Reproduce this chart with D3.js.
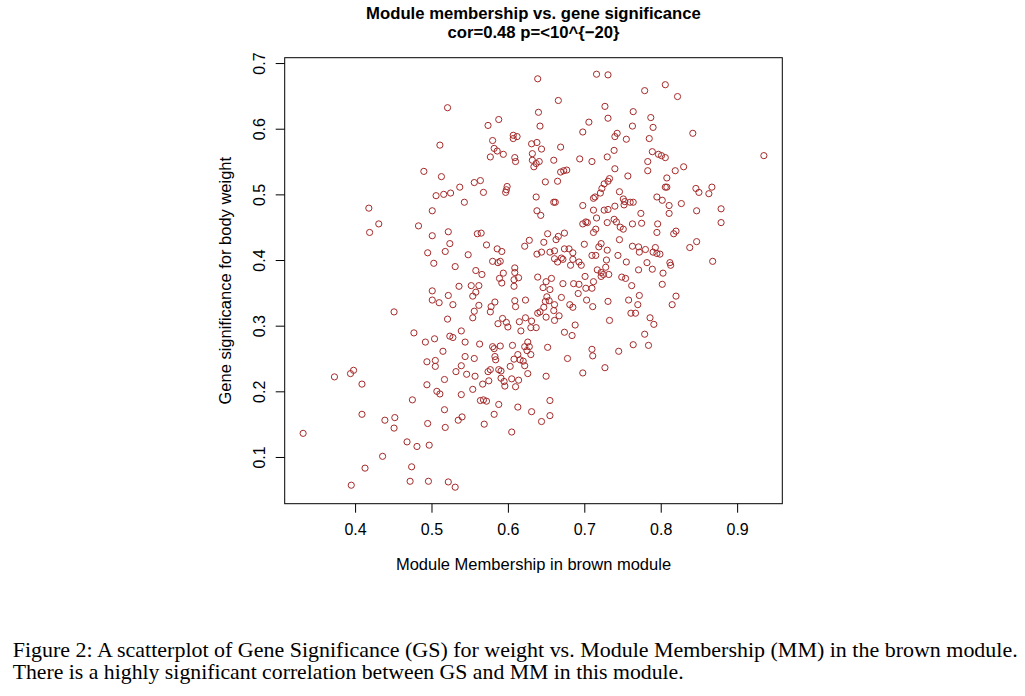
<!DOCTYPE html>
<html>
<head>
<meta charset="utf-8">
<script src="https://cdn.jsdelivr.net/npm/d3@7"></script>
<style>
  body { margin: 0; background: #fff; }
  text { font-family: "Liberation Sans", Arial, sans-serif; }
</style>
</head>
<body>
<div id="chart"></div>
<script>
// module membership (x) and gene significance (y), one entry per gene
var mm = [
  0.511,0.490,0.513,0.506,0.516,0.639,0.716,0.666,0.521,0.640,
  0.588,0.574,0.642,0.706,0.698,0.607,0.607,0.612,0.580,0.631,
  0.638,0.669,0.582,0.586,0.594,0.644,0.632,0.577,0.609,0.610,
  0.632,0.641,0.637,0.634,0.660,0.694,0.710,0.669,0.673,0.677,
  0.649,0.665,0.556,0.564,0.537,0.525,0.568,0.599,0.598,0.597,
  0.543,0.637,0.660,0.662,0.712,0.714,0.721,0.723,0.726,0.731,
  0.779,0.806,0.822,0.727,0.764,0.731,0.787,0.763,0.790,0.743,
  0.740,0.755,0.785,0.842,0.935,0.739,0.730,0.789,0.797,0.801,
  0.806,0.783,0.783,0.740,0.757,0.819,0.830,0.808,0.806,0.808,
  0.733,0.731,0.746,0.846,0.850,0.863,0.867,0.795,0.802,0.751,
  0.753,0.760,0.764,0.827,
  0.418,0.501,0.431,0.483,0.419,0.501,0.495,0.503,0.501,0.501,
  0.510,0.451,0.477,0.492,0.504,
  0.698,0.712,0.726,0.638,0.643,0.716,0.702,0.698,0.704,0.715,
  0.712,0.522,0.560,0.565,0.652,0.674,0.666,0.663,0.628,0.622,
  0.647,0.524,0.572,0.700,0.722,0.719,0.518,0.586,0.592,0.644,
  0.638,0.655,0.661,0.674,0.680,0.685,0.548,0.710,0.715,0.661,
  0.665,0.670,0.672,0.685,0.682,0.693,0.696,0.580,0.587,0.590,
  0.531,0.609,0.609,0.558,0.566,0.594,0.717,0.722,0.725,0.722,
  0.701,0.639,0.650,0.657,0.589,0.592,0.608,0.614,0.672,0.686,
  0.693,0.712,0.702,0.710,0.536,0.552,0.562,0.558,0.608,0.646,
  0.655,0.692,0.554,0.522,0.670,0.651,0.649,0.654,0.623,0.609,
  0.583,0.703,0.528,0.562,0.578,0.577,0.610,0.647,0.642,0.661,
  0.660,0.681,0.685,0.711,0.556,0.639,0.667,0.554,0.521,0.593,
  0.587,0.598,0.600,0.623,0.650,0.631,0.630,0.637,0.615,
  0.661,0.688,0.539,0.617,0.674,0.684,0.524,0.528,0.563,0.544,
  0.606,0.580,0.582,0.590,0.622,0.626,0.628,0.652,0.710,
  0.740,0.731,0.752,0.811,0.847,0.879,0.774,0.811,0.739,0.742,0.730,
  0.763,0.775,0.796,0.879,0.747,0.751,0.795,0.817,0.820,0.746,
  0.847,0.838,0.763,0.771,0.772,0.780,0.793,0.790,0.795,0.799,
  0.730,0.744,0.755,0.729,0.782,0.812,0.813,0.868,0.728,0.732,
  0.771,0.789,0.803,0.749,0.754,0.762,0.802,0.772,0.758,0.770,
  0.820,0.815,0.731,0.761,0.767,0.786,0.733,0.791,0.779,0.764,0.784,
  0.515,0.494,0.505,0.505,0.373,0.394,0.398,0.409,0.494,
  0.517,0.507,0.511,0.475,0.517,0.409,0.439,0.452,0.451,0.495,
  0.332,0.468,0.481,0.497,0.436,0.413,0.474,0.395,0.472,0.496,
  0.518,0.522,0.531,0.544,0.556,0.583,0.584,0.625,0.630,0.711,
  0.678,0.613,0.608,0.616,0.620,0.622,0.539,0.532,0.546,0.557,
  0.574,0.577,0.588,0.591,0.603,0.626,0.650,0.698,0.575,0.567,
  0.591,0.595,0.596,0.605,0.614,0.610,0.539,0.554,0.564,0.568,
  0.572,0.588,0.613,0.655,0.540,0.535,0.582,0.631,0.655,0.644,
  0.569,0.605,0.745,0.727
];
var gs = [
  0.575,0.535,0.527,0.498,0.500,0.676,0.683,0.643,0.632,0.625,
  0.614,0.605,0.604,0.610,0.595,0.590,0.585,0.588,0.582,0.577,
  0.579,0.572,0.570,0.566,0.561,0.569,0.562,0.557,0.556,0.550,
  0.552,0.550,0.547,0.542,0.552,0.554,0.550,0.534,0.536,0.537,
  0.519,0.520,0.518,0.521,0.511,0.502,0.503,0.512,0.507,0.503,
  0.488,0.496,0.488,0.488,0.494,0.496,0.502,0.509,0.516,0.682,
  0.658,0.667,0.649,0.634,0.626,0.616,0.617,0.604,0.602,0.593,
  0.588,0.584,0.585,0.593,0.559,0.567,0.557,0.565,0.561,0.559,
  0.556,0.550,0.536,0.539,0.528,0.536,0.542,0.525,0.511,0.511,
  0.524,0.520,0.504,0.509,0.503,0.501,0.511,0.496,0.491,0.493,
  0.489,0.488,0.488,0.486,
  0.479,0.475,0.455,0.452,0.442,0.437,0.411,0.395,0.353,0.339,
  0.335,0.321,0.289,0.275,0.280,
  0.483,0.476,0.476,0.475,0.468,0.464,0.458,0.455,0.457,0.447,
  0.442,0.443,0.440,0.441,0.440,0.441,0.436,0.431,0.430,0.421,
  0.427,0.425,0.423,0.424,0.425,0.420,0.413,0.417,0.413,0.412,
  0.409,0.412,0.414,0.417,0.417,0.411,0.408,0.407,0.407,0.402,
  0.397,0.403,0.401,0.401,0.392,0.397,0.392,0.398,0.396,0.398,
  0.390,0.388,0.381,0.384,0.378,0.380,0.385,0.381,0.378,0.375,
  0.375,0.374,0.367,0.372,0.372,0.365,0.370,0.373,0.364,0.364,
  0.363,0.367,0.357,0.357,0.360,0.361,0.361,0.351,0.360,0.358,
  0.355,0.349,0.345,0.346,0.343,0.344,0.337,0.338,0.339,0.338,
  0.336,0.339,0.332,0.331,0.329,0.321,0.329,0.328,0.321,0.332,
  0.323,0.332,0.328,0.329,0.322,0.319,0.315,0.312,0.310,0.311,
  0.303,0.305,0.298,0.312,0.313,0.307,0.297,0.297,0.306,
  0.308,0.301,0.292,0.292,0.290,0.285,0.284,0.282,0.272,0.275,
  0.270,0.268,0.265,0.269,0.268,0.275,0.268,0.267,0.264,
  0.482,0.477,0.484,0.483,0.475,0.478,0.471,0.471,0.462,0.458,0.457,
  0.455,0.456,0.455,0.457,0.450,0.447,0.442,0.440,0.444,0.431,
  0.428,0.419,0.421,0.420,0.412,0.416,0.419,0.412,0.410,0.409,
  0.415,0.407,0.397,0.400,0.396,0.396,0.392,0.398,0.389,0.378,
  0.385,0.386,0.380,0.374,0.372,0.361,0.363,0.346,0.339,0.332,
  0.345,0.332,0.337,0.319,0.319,0.312,0.308,0.302,0.287,0.271,0.270,
  0.261,0.245,0.247,0.238,0.222,0.227,0.232,0.211,0.210,
  0.218,0.200,0.196,0.187,0.172,0.165,0.156,0.160,0.144,0.151,
  0.136,0.123,0.116,0.118,0.101,0.083,0.085,0.057,0.063,0.063,
  0.145,0.062,0.054,0.253,0.250,0.253,0.248,0.262,0.256,0.254,
  0.250,0.256,0.249,0.248,0.246,0.239,0.239,0.230,0.226,0.223,
  0.230,0.233,0.233,0.231,0.238,0.227,0.223,0.228,0.216,0.211,
  0.220,0.215,0.208,0.219,0.217,0.207,0.195,0.203,0.186,0.187,
  0.185,0.180,0.176,0.186,0.161,0.156,0.165,0.169,0.163,0.154,
  0.150,0.138,0.261,0.236
];

var xTicks = [0.4, 0.5, 0.6, 0.7, 0.8, 0.9];
var yTicks = [0.1, 0.2, 0.3, 0.4, 0.5, 0.6, 0.7];
var titleLines = ["Module membership vs. gene significance", "cor=0.48 p=<10^{\u221220}"];
var xLabel = "Module Membership in brown module";
var yLabel = "Gene significance for body weight";
var captionLines = [
  "Figure 2: A scatterplot of Gene Significance (GS) for weight vs. Module Membership (MM) in the brown module.",
  "There is a highly significant correlation between GS and MM in this module."
];

var width = 1025, height = 696;
var box = {left: 284.7, right: 782.3, top: 57.7, bottom: 503.7};
var midX = (box.left + box.right) / 2;

// R style axis range: data extent plus 4% on both sides
function padded(v) {
    var e = d3.extent(v), r = e[1] - e[0];
    return [e[0] - 0.04 * r, e[1] + 0.04 * r];
}

var points = mm.map(function (d, i) { return {mm: d, gs: gs[i]}; });

var x = d3.scaleLinear().domain(padded(mm)).range([box.left, box.right]);
var y = d3.scaleLinear().domain(padded(gs)).range([box.bottom, box.top]);

var svg = d3.select("#chart").append("svg")
    .attr("width", width)
    .attr("height", height)
    .style("display", "block");

// points
svg.append("g").selectAll("circle")
    .data(points)
    .enter().append("circle")
    .attr("cx", function (d) { return x(d.mm); })
    .attr("cy", function (d) { return y(d.gs); })
    .attr("r", 3.1)
    .attr("fill", "none")
    .attr("stroke", "#a52a2a")
    .attr("stroke-width", 1);

// axes
var xAxis = svg.append("g")
    .attr("transform", "translate(0," + box.bottom + ")")
    .call(d3.axisBottom(x).tickValues(xTicks).tickFormat(d3.format(".1f")).tickSize(9).tickPadding(11));
xAxis.select(".domain").remove();
xAxis.selectAll("text")
    .attr("font-size", 16)
    .attr("font-family", "Liberation Sans, Arial, sans-serif")
    .attr("fill", "#000");

var yAxis = svg.append("g")
    .attr("transform", "translate(" + box.left + ",0)")
    .call(d3.axisLeft(y).tickValues(yTicks).tickFormat(d3.format(".1f")).tickSize(9));
yAxis.select(".domain").remove();
yAxis.selectAll("text")
    .attr("x", 0)
    .attr("dy", 0)
    .attr("text-anchor", "middle")
    .attr("transform", "translate(-19.7,0) rotate(-90)")
    .attr("font-size", 16)
    .attr("font-family", "Liberation Sans, Arial, sans-serif")
    .attr("fill", "#000");

// plot box
svg.append("rect")
    .attr("x", box.left)
    .attr("y", box.top)
    .attr("width", box.right - box.left)
    .attr("height", box.bottom - box.top)
    .attr("fill", "none")
    .attr("stroke", "#000")
    .attr("stroke-width", 1);

// title
svg.selectAll(".title")
    .data(titleLines)
    .enter().append("text")
    .attr("class", "title")
    .attr("x", midX)
    .attr("y", function (d, i) { return 19.3 + i * 19; })
    .attr("text-anchor", "middle")
    .attr("font-size", 16.7)
    .attr("font-weight", "bold")
    .text(function (d) { return d; });

// axis labels
svg.append("text")
    .attr("x", midX)
    .attr("y", 570)
    .attr("text-anchor", "middle")
    .attr("font-size", 16.5)
    .text(xLabel);

svg.append("text")
    .attr("transform", "translate(231," + ((box.top + box.bottom) / 2) + ") rotate(-90)")
    .attr("text-anchor", "middle")
    .attr("font-size", 16.5)
    .text(yLabel);

// figure caption
var capWidths = [1005, 671];
svg.selectAll(".caption")
    .data(captionLines)
    .enter().append("text")
    .attr("class", "caption")
    .attr("x", 12.7)
    .attr("y", function (d, i) { return 656.7 + i * 22.3; })
    .attr("font-size", 21)
    .style("font-family", "'Liberation Serif', 'DejaVu Serif', serif")
    .attr("textLength", function (d, i) { return capWidths[i]; })
    .attr("lengthAdjust", "spacingAndGlyphs")
    .text(function (d) { return d; });
</script>
</body>
</html>
